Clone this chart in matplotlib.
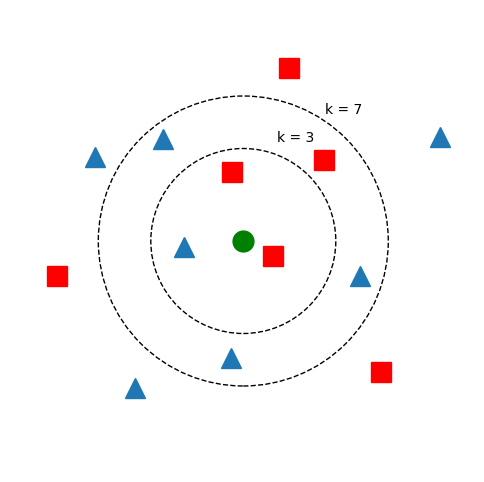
import matplotlib
matplotlib.use("Agg")
import matplotlib.pyplot as plt
from matplotlib.patches import Circle

# query point
query = (0.0, 0.0)

# class A (red squares)
red_x = [0.92, 1.62, -0.22, 0.60, -3.72, 2.76]
red_y = [3.46, 1.62, 1.38, -0.30, -0.70, -2.62]

# class B (blue triangles)
blue_x = [-1.60, -2.96, 3.94, -1.18, 2.34, -0.25, -2.17]
blue_y = [2.04, 1.68, 2.08, -0.12, -0.70, -2.33, -2.93]

# neighbourhood radii and labels
radii = [1.85, 2.90]
labels = ["k = 3", "k = 7"]
label_pos = [(0.68, 1.97), (1.63, 2.55)]

fig = plt.figure(figsize=(4.84, 4.82), dpi=100)
ax = fig.add_axes([0, 0, 1, 1])

ax.plot(red_x, red_y, 's', color='red', markersize=15, linestyle='none')
ax.plot(blue_x, blue_y, '^', color='#1f77b4', markersize=15, linestyle='none')
ax.plot(query[0], query[1], 'o', color='green', markersize=15)

for r in radii:
    ax.add_patch(Circle(query, r, fill=False, linestyle='--',
                        edgecolor='black', linewidth=1))

for lab, (tx, ty) in zip(labels, label_pos):
    ax.text(tx, ty, lab, fontsize=10, ha='left', va='baseline')

ax.set_xlim(-4.866, 4.814)
ax.set_ylim(-4.82, 4.82)
ax.set_aspect('equal')
ax.axis('off')

fig.savefig("out.png", dpi=100)
